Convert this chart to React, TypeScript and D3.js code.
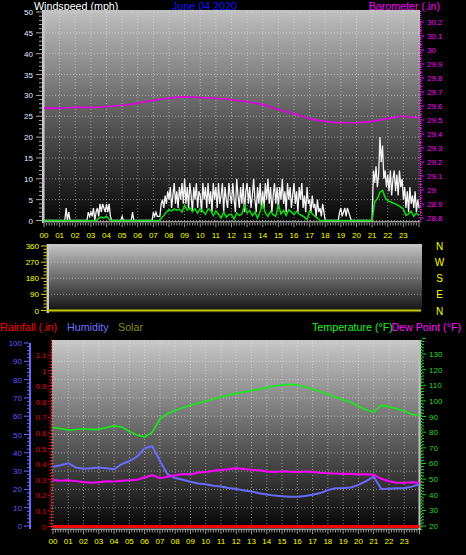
import React from "react";
import * as d3 from "d3";

// ---------- data ----------
const hourLabels = ["00","01","02","03","04","05","06","07","08","09","10","11","12","13","14","15","16","17","18","19","20","21","22","23"];
const windTicks = [0,5,10,15,20,25,30,35,40,45,50];
const baroTicks = [28.8,28.9,29,29.1,29.2,29.3,29.4,29.5,29.6,29.7,29.8,29.9,30,30.1,30.2];
const dirTicks = [0,90,180,270,360];
const dirLetters = ["N","E","S","W","N"];
const humTicks = [0,10,20,30,40,50,60,70,80,90,100];
const rainTicks = [0,0.1,0.2,0.3,0.4,0.5,0.6,0.7,0.8,0.9,1,1.1];
const tempTicks = [20,30,40,50,60,70,80,90,100,110,120,130];

// wind gust, mph, every 5 minutes (12 per hour) + final point
const gustMph = [
  0,0,0,0,0,0,0,0,0,0,0,0,
  0,0,0,0,0,3,0,2,0,0,0,0,
  0,0,0,0,0,0,0,0,0,0,2,1,
  2,1,3,0,2,3,1,4,2,4,3,2,
  4,2,4,1,0,0,0,0,0,0,0,0,
  1,0,0,0,0,0,0,0,2,0,0,0,
  0,0,0,0,0,0,0,0,0,0,0,0,
  2,1,2,1,1,1,4,5,3,6,4,7,
  5,8,3,6,9,4,7,3,8,5,9,4,
  10,4,8,3,9,6,2,8,5,9,3,7,
  6,2,9,5,8,3,9,4,7,2,9,5,
  8,3,9,4,6,9,2,8,5,3,9,6,
  4,9,5,2,10,6,3,8,4,9,2,7,
  9,4,8,3,6,10,5,2,8,4,9,3,
  7,3,9,5,10,4,8,2,6,9,4,8,
  3,8,5,10,4,7,2,9,5,8,3,6,
  9,4,7,2,8,5,9,3,6,2,8,4,
  5,2,6,3,4,1,5,2,3,1,4,2,
  0,0,0,0,0,0,0,0,0,0,0,2,
  3,1,2,3,1,3,2,1,0,0,0,0,
  0,0,0,0,0,0,0,0,0,0,0,0,
  0,12,9,13,8,11,20,14,18,10,12,8,
  11,7,12,6,10,12,7,11,6,12,8,10,
  5,8,3,7,2,8,4,6,3,7,2,5,
  3,
];

// average wind, mph, every 10 minutes (6 per hour) + final point
const avgMph = [
  0,0,0,0,0,0,
  0,0,0,0,0,0,
  0,0,0,0,0,0,
  0,0,0,0.5,0.8,0.6,
  1,0.3,0,0,0,0,
  0,0,0,0,0,0,
  0,0,0,0,0,0,
  0,0,0,0.5,1.2,2.0,
  2.6,2.3,2.8,2.5,2.7,2.0,
  3.7,2.5,3.0,2.2,2.8,1.8,
  2.9,2.2,1.5,2.8,2.4,1.2,
  2.3,1.5,0.6,2.0,0.8,1.4,
  1.5,0.3,1.8,1.2,1.6,3.6,
  1.8,2.4,1.2,2.0,0.6,2.2,
  4.0,1.8,1.0,2.2,1.4,1.0,
  3.8,1.6,2.4,1.2,2.6,2.0,
  1.4,2.2,1.5,1.2,0.8,0.2,
  2.3,1.6,1.0,0.6,0,0,
  0,0,0,0,0,0,
  0,0,0,0,0,0,
  0,0,0,0,0,0,
  0,4.5,5.2,6.8,7.2,5.5,
  4.7,4.5,4.2,4.0,3.6,3.2,
  2.8,1.2,1.6,2.2,1.0,1.8,
  1.2,
];

// barometer, inHg, hourly
const baroIn = [29.585,29.585,29.59,29.59,29.595,29.605,29.62,29.64,29.655,29.665,29.66,29.655,29.645,29.63,29.61,29.575,29.545,29.51,29.49,29.48,29.48,29.49,29.51,29.525,29.515];

// wind direction, degrees, hourly
const windDir = [0,0,0,0,0,0,0,0,0,0,0,0,0,0,0,0,0,0,0,0,0,0,0,0,0];

// half-hourly series
const tempF = [82.9,82.4,81.3,81.7,82.2,81.8,81.8,83.0,84.0,83.3,80.5,78.2,76.9,80.0,88.2,91.9,93.8,95.6,97.2,98.5,99.8,101.2,102.5,103.6,104.8,105.7,106.6,107.4,108.5,109.5,110.2,110.6,110.2,109.0,107.5,105.8,104.2,102.5,100.8,99.0,96.6,94.3,92.8,97.3,96.3,95.0,93.5,91.5,90.5];
const humidity = [32.4,33.2,34.3,32.0,31.3,31.6,31.9,31.5,31.0,33.8,35.5,37.9,42.5,43.5,35.5,28.3,26.2,25.3,24.2,23.2,22.8,22.0,21.6,20.8,20.2,19.4,18.8,17.9,17.2,16.6,16.3,16.0,16.0,16.4,17.1,18.0,19.6,20.6,20.8,21.1,22.5,24.5,27.0,20.2,20.4,20.6,20.6,21.5,22.8];
const dewF = [49.4,49.0,49.3,48.7,48.2,47.7,48.0,48.6,48.4,49.0,49.2,49.6,51.0,52.6,50.6,51.5,52.4,53.3,53.0,54.2,54.6,55.4,55.8,56.3,56.9,56.4,55.9,55.6,54.9,54.6,55.0,54.7,54.5,54.9,54.5,54.0,53.8,53.5,53.2,53.4,53.0,53.1,52.8,50.2,48.6,47.7,47.6,47.9,47.7];
const rainIn = [0,0,0,0,0,0,0,0,0,0,0,0,0,0,0,0,0,0,0,0,0,0,0,0,0];

const FONT = "'Liberation Sans', Arial, sans-serif";

export default function App() {
  // scales
  const xTop = d3.scaleLinear().domain([0, 24]).range([44, 419]);
  const yWind = d3.scaleLinear().domain([0, 50]).range([220.5, 12]);
  const yBaro = d3.scaleLinear().domain([28.8, 30.2]).range([218, 22]);

  const xMid = d3.scaleLinear().domain([0, 24]).range([48, 421]);
  const yDir = d3.scaleLinear().domain([0, 360]).range([310.5, 246]);

  const xBot = d3.scaleLinear().domain([0, 24]).range([53, 419.5]);
  const yHum = d3.scaleLinear().domain([0, 100]).range([526, 343]);
  const yTemp = d3.scaleLinear().domain([20, 130]).range([526, 354]);
  const yRain = d3.scaleLinear().domain([0, 1.1]).range([526.5, 355]);

  const gustPath = d3.line<number>().x((_, i) => xTop(i / 12)).y((d) => yWind(d))(gustMph) || "";
  const avgPath = d3.line<number>().x((_, i) => xTop(i / 6)).y((d) => yWind(d))(avgMph) || "";
  const baroPath = d3.line<number>().x((_, i) => xTop(i)).y((d) => yBaro(d)).curve(d3.curveMonotoneX)(baroIn) || "";
  const dirPath = d3.line<number>().x((_, i) => xMid(i)).y((d) => yDir(d))(windDir) || "";
  const tempPath = d3.line<number>().x((_, i) => xBot(i / 2)).y((d) => yTemp(d))(tempF) || "";
  const humPath = d3.line<number>().x((_, i) => xBot(i / 2)).y((d) => yHum(d))(humidity) || "";
  const dewPath = d3.line<number>().x((_, i) => xBot(i / 2)).y((d) => yTemp(d))(dewF) || "";
  const rainPath = d3.line<number>().x((_, i) => xBot(i)).y((d) => yRain(d))(rainIn) || "";

  const hours = d3.range(0, 25);
  const tenMin = d3.range(0, 24 * 6 + 1);
  const windMinor = d3.range(0, 51);
  const baroMinor = d3.range(0, 71).map((i) => 28.8 + i * 0.02);
  const dirMinor = d3.range(0, 361, 18);
  const humMinor = d3.range(0, 101, 2);
  const rainMinor = d3.range(0, 57).map((i) => i * 0.02);
  const tempMinor = d3.range(20, 141, 2);

  const grid = "rgba(235,235,235,0.5)";

  return (
    <svg width={466} height={555} style={{ position: "absolute", left: 0, top: 0, display: "block" }} fontFamily={FONT}>
      <defs>
        <linearGradient id="gTop" x1="0" y1="0" x2="0" y2="1">
          <stop offset="0" stopColor="#c0c0c0" />
          <stop offset="0.5" stopColor="#5c5c5c" />
          <stop offset="1" stopColor="#060606" />
        </linearGradient>
        <linearGradient id="gMid" x1="0" y1="0" x2="0" y2="1">
          <stop offset="0" stopColor="#c4c4c4" />
          <stop offset="1" stopColor="#0c0c0c" />
        </linearGradient>
        <linearGradient id="gBot" x1="0" y1="0" x2="0" y2="1">
          <stop offset="0" stopColor="#c8c8c8" />
          <stop offset="0.5" stopColor="#626262" />
          <stop offset="1" stopColor="#040404" />
        </linearGradient>
      </defs>
      <rect x={0} y={0} width={466} height={555} fill="#000" />

      {/* ================= TOP: wind / barometer ================= */}
      <text x={34} y={10} fill="#fff" fontSize={10.7}>Windspeed (mph)</text>
      <text x={204.5} y={10} fill="#1414ff" fontSize={10.7} textAnchor="middle">June 04 2020</text>
      <text x={440} y={10} fill="#ff00ff" fontSize={10.7} textAnchor="end">Barometer (.in)</text>

      <rect x={43} y={10} width={377} height={212} fill="url(#gTop)" />
      {hours.map((h) => (
        <line key={"tv" + h} x1={xTop(h)} x2={xTop(h)} y1={10} y2={221} stroke={grid} strokeDasharray="1,2" />
      ))}
      {windTicks.map((v) => (
        <line key={"th" + v} x1={43} x2={420} y1={yWind(v)} y2={yWind(v)} stroke={grid} strokeDasharray="1,2" />
      ))}
      <rect x={42} y={10} width={2.5} height={213} fill="#c8c8c8" />
      <rect x={43} y={221} width={377} height={1.5} fill="#9a9a9a" />

      {/* left axis */}
      {windMinor.map((v) => (
        <line key={"wm" + v} x1={v % 5 === 0 ? 36 : 39} x2={42} y1={yWind(v)} y2={yWind(v)} stroke="#a8a8a8" strokeWidth={1} />
      ))}
      {windTicks.map((v) => (
        <text key={"wt" + v} x={33} y={yWind(v) + 3} fill="#e4ecff" fontSize={8} textAnchor="end">{v}</text>
      ))}
      {/* right axis */}
      <line x1={420.5} x2={420.5} y1={11} y2={222} stroke="#ff00ff" strokeDasharray="1,1" />
      {baroMinor.map((v, i) => (
        <line key={"bm" + i} x1={420} x2={i % 5 === 0 ? 424 : 422} y1={yBaro(v)} y2={yBaro(v)} stroke="#ff00ff" strokeWidth={1} />
      ))}
      {baroTicks.map((v) => (
        <text key={"bt" + v} x={427} y={yBaro(v) + 3} fill="#ff00ff" fontSize={8}>{d3.format("")(v)}</text>
      ))}
      {/* x axis */}
      {tenMin.map((i) => (
        <line key={"xm" + i} x1={xTop(i / 6)} x2={xTop(i / 6)} y1={223} y2={i % 6 === 0 ? 227 : 225.5} stroke="#9a9a9a" />
      ))}
      {hourLabels.map((l, i) => (
        <text key={"xl" + i} x={xTop(i)} y={237.5} fill="#ffff00" fontSize={8} textAnchor="middle">{l}</text>
      ))}

      {/* series */}
      <path d={baroPath} fill="none" stroke="#e000e0" strokeWidth={1.6} />
      <path d={gustPath} fill="none" stroke="#f4f4f4" strokeWidth={1.3} />
      <path d={avgPath} fill="none" stroke="#10dd10" strokeWidth={1.5} />

      {/* ================= MIDDLE: wind direction ================= */}
      <rect x={47} y={244} width={375} height={69} fill="url(#gMid)" />
      {dirTicks.map((v) => (
        <line key={"dh" + v} x1={48} x2={421} y1={yDir(v)} y2={yDir(v)} stroke={grid} strokeDasharray="1,2" />
      ))}
      <rect x={46.5} y={244} width={2.5} height={69} fill="#c8c8c8" />
      {dirMinor.map((v) => (
        <line key={"dm" + v} x1={v % 90 === 0 ? 41 : 43.5} x2={46.5} y1={yDir(v)} y2={yDir(v)} stroke="#d8d800" />
      ))}
      {dirTicks.map((v) => (
        <text key={"dt" + v} x={39} y={yDir(v) + 3} fill="#ffff00" fontSize={8} textAnchor="end">{v}</text>
      ))}
      {dirTicks.map((v, i) => (
        <text key={"dl" + v} x={439.5} y={yDir(v) + 4} fill="#ffff00" fontSize={10} textAnchor="middle">{dirLetters[i]}</text>
      ))}
      <path d={dirPath} fill="none" stroke="#c8c800" strokeWidth={2} />

      {/* ================= BOTTOM: temp / hum / dew / rain ================= */}
      <text x={0} y={331} fill="#ff0000" fontSize={10.7}>Rainfall (.in)</text>
      <text x={67} y={331} fill="#7070ff" fontSize={10.7}>Humidity</text>
      <text x={118} y={331} fill="#8a8a1a" fontSize={10.7}>Solar</text>
      <text x={312} y={331} fill="#22ee22" fontSize={10.7}>Temperature (°F)</text>
      <text x={461} y={331} fill="#ff10ff" fontSize={10.7} textAnchor="end">Dew Point (°F)</text>

      <rect x={52} y={340} width={369} height={190} fill="url(#gBot)" />
      {hours.map((h) => (
        <line key={"bv" + h} x1={xBot(h)} x2={xBot(h)} y1={340} y2={529} stroke={grid} strokeDasharray="1,2" />
      ))}
      {humTicks.map((v) => (
        <line key={"bh" + v} x1={52} x2={421} y1={yHum(v)} y2={yHum(v)} stroke={grid} strokeDasharray="1,2" />
      ))}
      <rect x={52} y={528.5} width={369} height={1.5} fill="#9a9a9a" />
      <rect x={418.5} y={340} width={2} height={190} fill="#bdbdbd" />

      {/* humidity axis */}
      <rect x={29} y={343} width={2} height={186} fill="#6a6aff" />
      {humMinor.map((v) => (
        <line key={"hm" + v} x1={v % 10 === 0 ? 24 : 27} x2={29} y1={yHum(v)} y2={yHum(v)} stroke="#6a6aff" />
      ))}
      {humTicks.map((v) => (
        <text key={"ht" + v} x={22} y={yHum(v) + 3} fill="#5a5aff" fontSize={8} textAnchor="end">{v}</text>
      ))}
      {/* rainfall axis */}
      <line x1={51.5} x2={51.5} y1={340} y2={530} stroke="#ff3030" strokeWidth={1.5} strokeDasharray="1.5,1.5" />
      {rainMinor.map((v, i) => (
        <line key={"rm" + i} x1={i % 5 === 0 ? 47.5 : 49.5} x2={51} y1={yRain(v)} y2={yRain(v)} stroke="#e00000" />
      ))}
      {rainTicks.map((v) => (
        <text key={"rt" + v} x={46.5} y={yRain(v) + 3} fill="#e00000" fontSize={8} textAnchor="end">{d3.format("")(v)}</text>
      ))}
      {/* temperature axis */}
      <line x1={421.5} x2={421.5} y1={340} y2={530} stroke="#22cc22" strokeWidth={1.5} strokeDasharray="1.5,1.5" />
      {tempMinor.map((v) => (
        <line key={"tm" + v} x1={422} x2={v % 10 === 0 ? 426 : 424} y1={yTemp(v)} y2={yTemp(v)} stroke="#22cc22" />
      ))}
      {tempTicks.map((v) => (
        <text key={"tt" + v} x={429} y={yTemp(v) + 3} fill="#22dd22" fontSize={8}>{v}</text>
      ))}
      {/* x axis */}
      {tenMin.map((i) => (
        <line key={"bx" + i} x1={xBot(i / 6)} x2={xBot(i / 6)} y1={530} y2={i % 6 === 0 ? 534 : 532.5} stroke="#9a9a9a" />
      ))}
      {hourLabels.map((l, i) => (
        <text key={"bl" + i} x={xBot(i)} y={544} fill="#ffff00" fontSize={8} textAnchor="middle">{l}</text>
      ))}

      {/* series */}
      <path d={tempPath} fill="none" stroke="#11ee11" strokeWidth={1.6} />
      <path d={humPath} fill="none" stroke="#6a6aff" strokeWidth={2} />
      <path d={dewPath} fill="none" stroke="#ff00ff" strokeWidth={2} />
      <path d={rainPath} fill="none" stroke="#ff0000" strokeWidth={3} />
    </svg>
  );
}
